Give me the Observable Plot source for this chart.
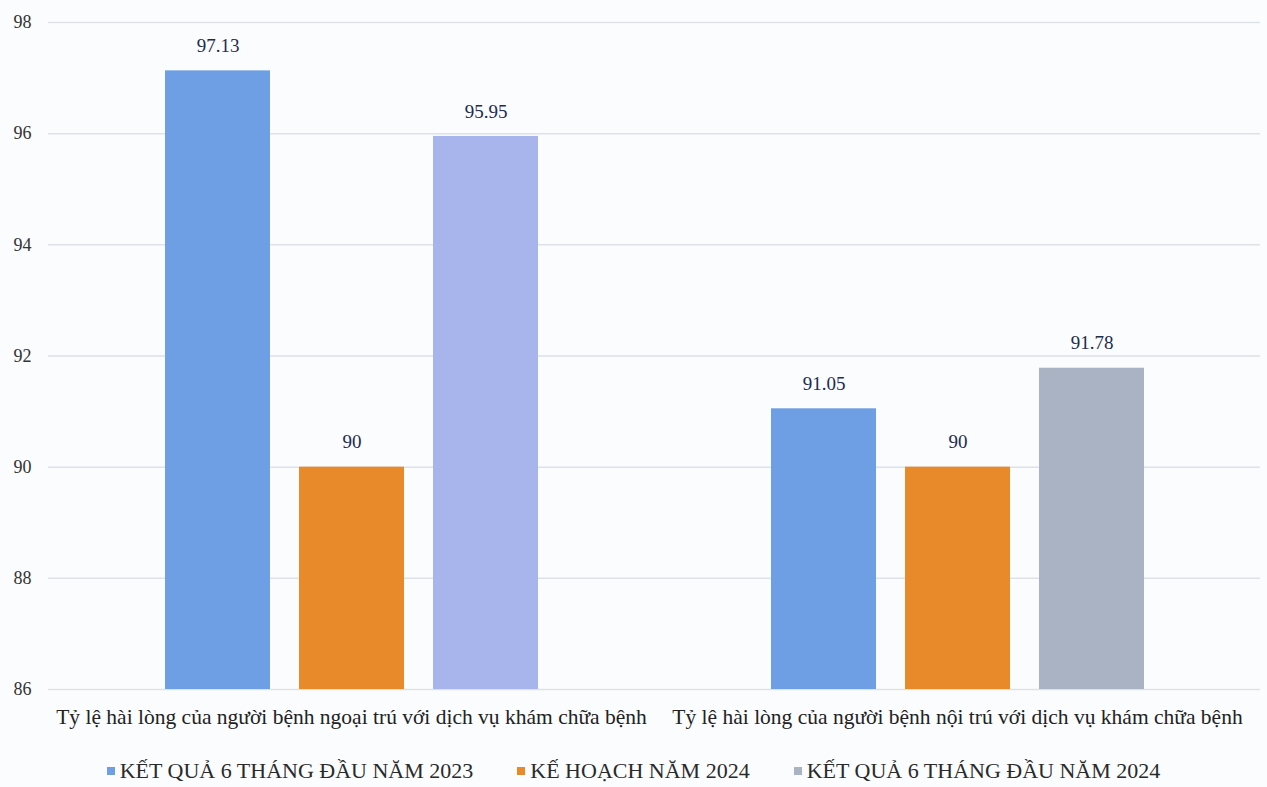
<!DOCTYPE html>
<html><head><meta charset="utf-8">
<script src="https://cdn.jsdelivr.net/npm/d3@7"></script>
<script src="https://cdn.jsdelivr.net/npm/@observablehq/plot@0.6"></script>
<style>
body{margin:0;background:#fbfcfe;font-family:"Liberation Serif",serif;width:1267px}
#legend{display:flex;justify-content:center;gap:44px;font-size:22px;color:#2a2a2a;margin-top:16px;padding-left:0}
#legend span.item{display:flex;align-items:center}
#legend i{display:inline-block;width:8px;height:8px;margin-right:5px}
</style>
</head><body><div id="chart"></div><div id="legend"></div><script>
const groups = [
  "Tỷ lệ hài lòng của người bệnh ngoại trú với dịch vụ khám chữa bệnh",
  "Tỷ lệ hài lòng của người bệnh nội trú với dịch vụ khám chữa bệnh"
];
const series = ["KẾT QUẢ 6 THÁNG ĐẦU NĂM 2023", "KẾ HOẠCH NĂM 2024", "KẾT QUẢ 6 THÁNG ĐẦU NĂM 2024"];
const result2023 = [97.13, 91.05];
const plan2024 = [90, 90];
const result2024 = [95.95, 91.78];
const yTicks = [86, 88, 90, 92, 94, 96, 98];

const seriesValues = [result2023, plan2024, result2024];
const colors = ["#6e9fe4", "#e8892a", "#aab3c4"];
const lavender = "#a8b4ec";

const data = [];
groups.forEach((g, gi) => series.forEach((s, si) => data.push({group: g, series: s, value: seriesValues[si][gi], gi, si})));

const chart = Plot.plot({
  width: 1267, height: 742,
  marginTop: 22, marginBottom: 53, marginLeft: 47, marginRight: 7,
  style: {fontFamily: "Liberation Serif, serif", background: "transparent"},
  fx: {domain: groups, padding: 0, label: null},
  x: {domain: series, paddingInner: 0.22, paddingOuter: 0.86, axis: null},
  y: {domain: [86, 98], label: null},
  color: {type: "identity"},
  marks: [
    Plot.ruleY(yTicks, {stroke: "#dde1e8", strokeWidth: 1.5}),
    Plot.barY(data, {fx: "group", x: "series", y1: 86, y2: "value",
      fill: d => (d.si === 2 && d.gi === 0) ? lavender : colors[d.si]}),
    Plot.text(data, {fx: "group", x: "series", y: "value", text: d => String(d.value), dy: -25,
      fontSize: 19, fill: "#1d2b4f"}),
    Plot.axisY({ticks: yTicks, tickSize: 0, tickPadding: 17, fontSize: 18, color: "#333", label: null, textAnchor: "end"}),
    Plot.axisFx({anchor: "bottom", tickSize: 0, tickPadding: 19, fontSize: 21.5, color: "#222", label: null})
  ]
});
document.getElementById("chart").appendChild(chart);

const legend = document.getElementById("legend");
series.forEach((s, i) => {
  const item = document.createElement("span");
  item.className = "item";
  item.innerHTML = `<i style="background:${colors[i]}"></i>${s}`;
  legend.appendChild(item);
});
</script></body></html>
